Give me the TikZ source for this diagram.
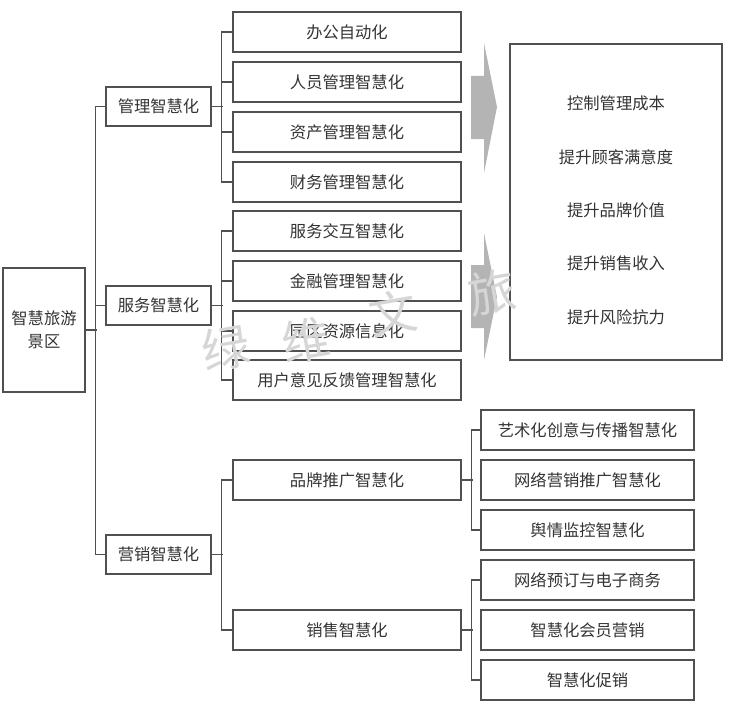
\documentclass[tikz,border=0pt]{standalone}
\usepackage{fontspec}
\setmainfont{Noto Sans CJK SC}
\usepackage{tikz}
\usetikzlibrary{positioning,calc}

\definecolor{linegray}{HTML}{505050}
\definecolor{arrowgray}{HTML}{B4B4B4}

\begin{document}
\begin{tikzpicture}[x=1pt,y=-1pt,
    box/.style={draw=linegray,line width=1.1pt,inner sep=0pt,font=\fontsize{16.3}{23}\selectfont,text=black!80},
    lone/.style={box,minimum width=82pt,minimum height=124pt,align=center},
    ltwo/.style={box,minimum width=105pt,minimum height=39pt},
    lthree/.style={box,minimum width=228pt,minimum height=40pt},
    lfour/.style={box,minimum width=213pt,minimum height=40pt},
    goaltxt/.style={inner sep=0pt,font=\fontsize{16.3}{18}\selectfont,text=black!80},
    wm/.style={inner sep=0pt,font=\fontsize{48}{48}\selectfont,text=black!16,rotate=10},
    link/.style={draw=linegray,line width=1.1pt}]
        \useasboundingbox (0,0) rectangle (734,709);

        % root and first level
        \node[lone] (root) at (44,330) {智慧旅游\\景区};
        \node[ltwo] (m1) at (158.5,106.5) {管理智慧化};
        \node[ltwo] (m2) at (158.5,305.5) {服务智慧化};
        \node[ltwo] (m3) at (158.5,554.5) {营销智慧化};

        \draw[link] (root.east) -- ++(11,0);
        \draw[link] (m1.west) -- ++(-10,0) |- (m3.west);
        \draw[link] (m2.west) -- ++(-10,0);

        % management
        \node[lthree] (a1) at (347,32) {办公自动化};
        \node[lthree] (a2) at (347,82) {人员管理智慧化};
        \node[lthree] (a3) at (347,132) {资产管理智慧化};
        \node[lthree] (a4) at (347,182) {财务管理智慧化};

        \draw[link] (m1.east) -- ++(11,0);
        \draw[link] (a1.west) -- ++(-11,0) |- (a4.west);
        \draw[link] (a2.west) -- ++(-11,0);
        \draw[link] (a3.west) -- ++(-11,0);

        % service
        \node[lthree] (b1) at (347,231) {服务交互智慧化};
        \node[lthree] (b2) at (347,281) {金融管理智慧化};
        \node[lthree] (b3) at (347,331) {园区资源信息化};
        \node[lthree] (b4) at (347,380) {用户意见反馈管理智慧化};

        \draw[link] (m2.east) -- ++(11,0);
        \draw[link] (b1.west) -- ++(-11,0) |- (b4.west);
        \draw[link] (b2.west) -- ++(-11,0);
        \draw[link] (b3.west) -- ++(-11,0);

        % marketing
        \node[lthree] (c1) at (347,480) {品牌推广智慧化};
        \node[lthree] (c2) at (347,630) {销售智慧化};

        \draw[link] (m3.east) -- ++(11,0);
        \draw[link] (c1.west) -- ++(-11,0) |- (c2.west);

        \node[lfour] (d1) at (587.5,430) {艺术化创意与传播智慧化};
        \node[lfour] (d2) at (587.5,480) {网络营销推广智慧化};
        \node[lfour] (d3) at (587.5,530) {舆情监控智慧化};

        \draw[link] (c1.east) -- ++(11,0);
        \draw[link] (d1.west) -- ++(-9,0) |- (d3.west);

        \node[lfour] (e1) at (587.5,580) {网络预订与电子商务};
        \node[lfour] (e2) at (587.5,630) {智慧化会员营销};
        \node[lfour] (e3) at (587.5,680) {智慧化促销};

        \draw[link] (c2.east) -- ++(11,0);
        \draw[link] (e1.west) -- ++(-9,0) |- (e3.west);

        % block arrows
        \fill[arrowgray] (471,76) -- (484,76) -- (484,43) -- (497,107)
            -- (484,173) -- (484,139) -- (471,139) -- cycle;
        \fill[arrowgray] (471,265) -- (484,265) -- (484,233) -- (497,297)
            -- (484,360) -- (484,328) -- (471,328) -- cycle;

        % goals
        \node[box,minimum width=212pt,minimum height=316pt] (goal) at (616,202) {};
        \node[goaltxt] (g1) at (616,103) {控制管理成本};
        \node[goaltxt] (g2) at (616,157) {提升顾客满意度};
        \node[goaltxt] (g3) at (616,210) {提升品牌价值};
        \node[goaltxt] (g4) at (616,263) {提升销售收入};
        \node[goaltxt] (g5) at (616,317) {提升风险抗力};

        % watermark
        \node[wm] (w1) at (226,348) {绿};
        \node[wm] (w2) at (306,340) {维};
        \node[wm] (w3) at (393,313) {文};
        \node[wm] (w4) at (492,292) {旅};

      \end{tikzpicture}
\end{document}
